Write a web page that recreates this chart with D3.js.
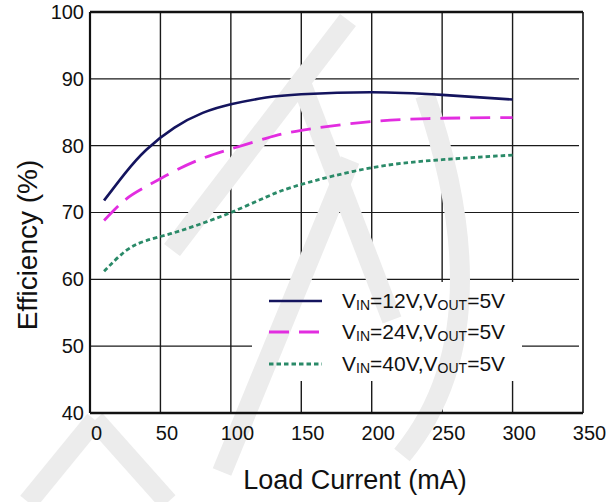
<!DOCTYPE html>
<html>
<meta charset="utf-8">
<title>Efficiency vs Load Current</title>
<style>
body { margin: 0; background: #fff; }
text { font-family: Arial, "Liberation Sans", sans-serif; fill: #111; }
</style>
<body>
<div id="chart"></div>
<script src="https://d3js.org/d3.v7.min.js"></script>
<script>
// data (load current in mA, efficiency in %)
var current = [10, 25, 40, 60, 80, 100, 125, 150, 200, 250, 300];
var eff12 = [71.8, 75.9, 79.4, 82.7, 84.9, 86.2, 87.2, 87.7, 88.0, 87.6, 86.9];
var eff24 = [68.8, 71.9, 73.9, 76.2, 78.1, 79.5, 81.1, 82.3, 83.6, 84.1, 84.2];
var eff40 = [61.2, 64.2, 65.8, 67.0, 68.4, 70.0, 72.3, 74.2, 76.7, 77.9, 78.6];
var xTicks = [0, 50, 100, 150, 200, 250, 300, 350];
var yTicks = [40, 50, 60, 70, 80, 90, 100];
var vinLabels = ["12V", "24V", "40V"];

var width = 614, height = 502;
var margin = {top: 12, right: 31, bottom: 89, left: 90};

var svg = d3.select("#chart").append("svg")
  .attr("width", width)
  .attr("height", height);

var x = d3.scaleLinear().domain([0, 350]).range([margin.left, width - margin.right]);
var y = d3.scaleLinear().domain([40, 100]).range([height - margin.bottom, margin.top]);

// grid
svg.append("g").selectAll("line").data(xTicks.slice(1, -1)).enter().append("line")
  .attr("x1", d => x(d)).attr("x2", d => x(d))
  .attr("y1", y(100)).attr("y2", y(40))
  .attr("stroke", "#1a1a1a").attr("stroke-width", 1.4);
svg.append("g").selectAll("line").data(yTicks.slice(1, -1)).enter().append("line")
  .attr("x1", x(0)).attr("x2", x(350) - 4)
  .attr("y1", d => y(d)).attr("y2", d => y(d))
  .attr("stroke", "#1a1a1a").attr("stroke-width", 1.2);

// legend background hides the grid behind it
svg.append("rect")
  .attr("x", 252).attr("y", 282).attr("width", 270).attr("height", 99)
  .attr("fill", "#fff");

// faint watermark
var wm = svg.append("g").attr("fill", "none").attr("stroke", "#ececec")
  .attr("stroke-width", 20).attr("stroke-linecap", "butt");
wm.append("path").attr("d", "M172,250 L348,20");
wm.append("path").attr("d", "M222,472 L350,160");
wm.append("path").attr("d", "M300,80 L392,320");
wm.append("path").attr("d", "M425,95 Q505,330 402,455");
wm.append("path").attr("d", "M95,420 L168,502");
wm.append("path").attr("d", "M95,420 L28,502");

// frame
svg.append("line").attr("x1", x(0)).attr("x2", x(350)).attr("y1", y(100)).attr("y2", y(100))
  .attr("stroke", "#111").attr("stroke-width", 2.5);
svg.append("line").attr("x1", x(0)).attr("x2", x(350)).attr("y1", y(40)).attr("y2", y(40))
  .attr("stroke", "#111").attr("stroke-width", 2.5);
svg.append("line").attr("x1", x(0)).attr("x2", x(0)).attr("y1", y(100)).attr("y2", y(40))
  .attr("stroke", "#111").attr("stroke-width", 2.2);
svg.append("line").attr("x1", x(350)).attr("x2", x(350)).attr("y1", y(100)).attr("y2", y(40))
  .attr("stroke", "#111").attr("stroke-width", 1.6);

// tick labels
var xAxis = svg.append("g")
  .attr("transform", "translate(6," + (y(40) + 13) + ")")
  .call(d3.axisBottom(x).tickValues(xTicks).tickSize(0).tickPadding(0));
xAxis.select(".domain").remove();
xAxis.selectAll("text").attr("font-size", 20).attr("fill", "#111")
  .attr("font-family", "Arial, 'Liberation Sans', sans-serif");

var yAxis = svg.append("g")
  .attr("transform", "translate(" + (x(0) - 6) + ",0)")
  .call(d3.axisLeft(y).tickValues(yTicks).tickSize(0).tickPadding(0));
yAxis.select(".domain").remove();
yAxis.selectAll("text").attr("font-size", 20).attr("fill", "#111")
  .attr("font-family", "Arial, 'Liberation Sans', sans-serif");

// axis titles
svg.append("text")
  .attr("x", 355).attr("y", 489)
  .attr("text-anchor", "middle")
  .attr("font-size", 27)
  .text("Load Current (mA)");
svg.append("text")
  .attr("transform", "translate(37,245) rotate(-90)")
  .attr("text-anchor", "middle")
  .attr("font-size", 28)
  .text("Efficiency (%)");

// curves
var styles = [
  {data: eff12, color: "#14145e", dash: null, w: 2.6},
  {data: eff24, color: "#e22de0", dash: "20,10", w: 2.8},
  {data: eff40, color: "#2a8a68", dash: "4.5,3", w: 2.8}
];
var line = d3.line()
  .x(d => x(d[0]))
  .y(d => y(d[1]))
  .curve(d3.curveNatural);

styles.forEach(function(s) {
  svg.append("path")
    .datum(current.map((c, i) => [c, s.data[i]]))
    .attr("d", line)
    .attr("fill", "none")
    .attr("stroke", s.color)
    .attr("stroke-width", s.w)
    .attr("stroke-dasharray", s.dash);
});

// legend
var legendY = [301, 332, 364];
styles.forEach(function(s, i) {
  svg.append("line")
    .attr("x1", 269).attr("x2", 322)
    .attr("y1", legendY[i]).attr("y2", legendY[i])
    .attr("stroke", s.color)
    .attr("stroke-width", s.w)
    .attr("stroke-dasharray", s.dash);
  var t = svg.append("text")
    .attr("x", 342).attr("y", legendY[i] + 7)
    .attr("font-size", 21);
  t.append("tspan").text("V");
  t.append("tspan").attr("font-size", 14).attr("dy", 2).text("IN");
  t.append("tspan").attr("dy", -2).text("=" + vinLabels[i] + ",V");
  t.append("tspan").attr("font-size", 14).attr("dy", 2).text("OUT");
  t.append("tspan").attr("dy", -2).text("=5V");
});
</script>
</body>
</html>
